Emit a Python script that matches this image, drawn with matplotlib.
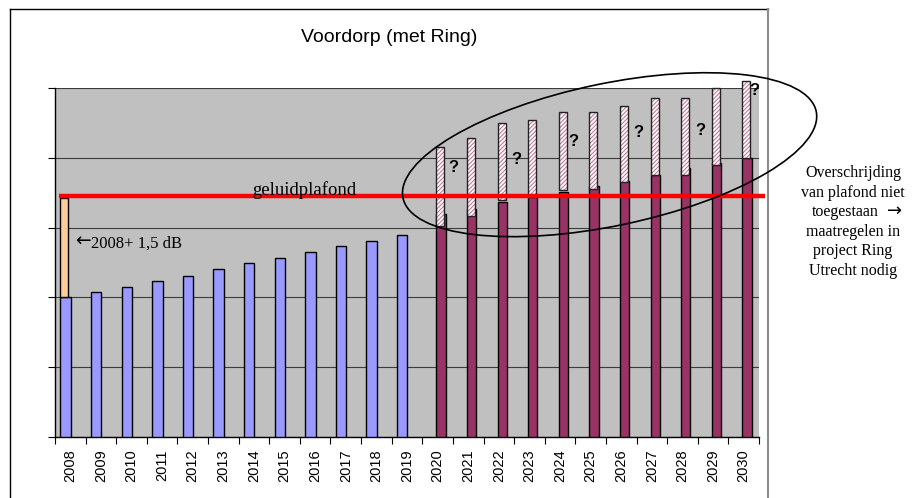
import numpy as np
import matplotlib
matplotlib.use("Agg")
import matplotlib.pyplot as plt
from matplotlib.patches import Ellipse
from matplotlib.lines import Line2D

plt.rcParams['font.family'] = ['Liberation Sans', 'DejaVu Sans']
plt.rcParams['hatch.linewidth'] = 0.8

years = list(range(2008, 2031))

# measured values (grid units, one gridline per unit)
blue_years = list(range(2008, 2020))
blue_vals = [2.00, 2.08, 2.15, 2.24, 2.30, 2.40, 2.49, 2.57, 2.65, 2.73, 2.81, 2.90]

purple_years = list(range(2020, 2031))
purple_vals = [3.20, 3.27, 3.37, 3.44, 3.51, 3.59, 3.67, 3.75, 3.85, 3.92, 4.00]
hatch_low = [3.03, 3.17, 3.39, 3.44, 3.54, 3.55, 3.65, 3.75, 3.76, 3.90, 3.99]
hatch_high = [4.15, 4.29, 4.50, 4.54, 4.65, 4.65, 4.74, 4.86, 4.86, 5.00, 5.10]

orange_low = 2.00
orange_high = 3.43
plafond = 3.45

title = "Voordorp (met Ring)"
plafond_label = "geluidplafond"
orange_label = "2008+ 1,5 dB"
side_note = ["Overschrijding", "van plafond niet", "toegestaan",
             "maatregelen in", "project Ring", "Utrecht nodig"]

SERIF = ['Liberation Serif', 'DejaVu Serif']

W, H = 916, 498
fig = plt.figure(figsize=(W / 100, H / 100), dpi=100)
ax = fig.add_axes([55 / W, 61 / H, 704 / W, 349 / H])
ax.set_facecolor('#C0C0C0')

bx = np.array([years.index(y) for y in blue_years])
px = np.array([years.index(y) for y in purple_years])

ax.bar(bx - 0.155, blue_vals, width=0.34, color='#9999FF',
       edgecolor='black', linewidth=1.0, zorder=3)
ax.bar(px + 0.11, purple_vals, width=0.30, color='#993366',
       edgecolor='black', linewidth=1.0, zorder=3)

# hatched "uncertainty" boxes on top of the purple bars
hx = px + 0.11 - 0.15
hh = np.array(hatch_high) - np.array(hatch_low)
ax.bar(hx, hh, bottom=hatch_low, width=0.26, align='edge', color='white',
       edgecolor='#C0789A', hatch='////////', linewidth=0, zorder=4,
       clip_on=False)
ax.bar(hx, hh, bottom=hatch_low, width=0.26, align='edge', fill=False,
       edgecolor='#222222', linewidth=1.0, zorder=5, clip_on=False)

# 2008 + 1.5 dB box
ax.bar([-0.34], [orange_high - orange_low], bottom=orange_low, width=0.26,
       align='edge', color='#FFCC99', edgecolor='black', linewidth=1.0,
       zorder=4)

ax.plot([-0.37, 22.7], [plafond, plafond], color='#FF0000', lw=3.2,
        zorder=6, clip_on=False, solid_capstyle='butt')

ax.text(5.95, plafond + 0.02, plafond_label, family=SERIF,
        fontsize=13.5, va='baseline', ha='left', zorder=7)
ax.text(0.17, 2.72, "\u2190", family='DejaVu Sans', fontsize=13.5,
        va='baseline', ha='left', zorder=7)
ax.text(0.67, 2.72, orange_label, family=SERIF, fontsize=12,
        va='baseline', ha='left', zorder=7)

q_pos = [(12.53, 3.86), (14.56, 3.98), (16.42, 4.23),
         (18.56, 4.36), (20.6, 4.39), (22.35, 4.97)]
for (qx, qy) in q_pos:
    ax.text(qx, qy, "?", fontsize=12, fontweight='bold', ha='center',
            va='center', zorder=7, clip_on=False)

ax.set_xlim(-0.5, len(years) - 0.5)
ax.set_ylim(0, 5)
ax.set_yticks(range(0, 6))
ax.set_yticklabels([])
ax.yaxis.grid(True, color='#3C3C3C', lw=0.8)
ax.set_axisbelow(True)
ax.tick_params(axis='y', length=5, width=0.8, direction='out')

ax.set_xticks(range(len(years)))
ax.set_xticklabels([str(y) for y in years], rotation=90, fontsize=10.5)
ax.set_xticks(np.arange(-0.5, len(years)), minor=True)
ax.tick_params(axis='x', which='major', length=0, pad=9)
ax.tick_params(axis='x', which='minor', length=5, width=0.8, direction='out')

for s in ['top', 'right']:
    ax.spines[s].set_visible(False)
ax.spines['left'].set_linewidth(1.0)
ax.spines['bottom'].set_linewidth(1.0)

# title and side note
fig.text(389 / W, 1 - 37 / H, title, fontsize=14, ha='center', va='center')
line_base = [177, 197, 216, 236, 255, 275]
for i, (txt, yy) in enumerate(zip(side_note, line_base)):
    if i == 2:
        fig.text(812 / W, 1 - yy / H, txt, family=SERIF, fontsize=11.5,
                 ha='left', va='baseline')
        fig.text(887 / W, 1 - yy / H, "\u2192", family='DejaVu Sans',
                 fontsize=13, ha='left', va='baseline')
    else:
        fig.text(853 / W, 1 - yy / H, txt, family=SERIF, fontsize=11.5,
                 ha='center', va='baseline')

# hand drawn ellipse around the future years
ell = Ellipse((6.096, 3.433), 4.222, 1.422, angle=11.84, fill=False,
              edgecolor='black', lw=1.2, transform=fig.dpi_scale_trans,
              zorder=10)
fig.add_artist(ell)

# chart frame
fig.add_artist(Line2D([10 / W, 10 / W], [0, 1 - 9 / H], color='black', lw=1.0))
fig.add_artist(Line2D([10 / W, 768 / W], [1 - 9 / H, 1 - 9 / H], color='black', lw=1.0))
fig.add_artist(Line2D([768 / W, 768 / W], [0, 1 - 9 / H], color='#8C8C8C', lw=1.5))

fig.savefig("out.png", dpi=100)
